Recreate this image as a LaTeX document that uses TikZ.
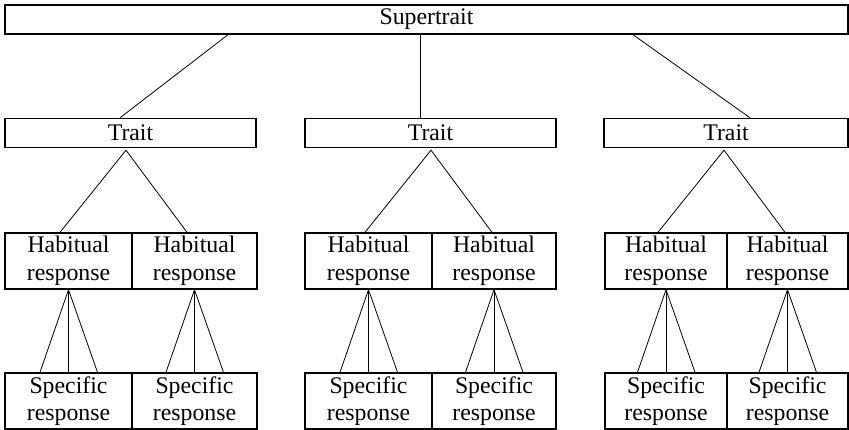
\documentclass[tikz,border=0pt]{standalone}
\usepackage{fontspec}
\setmainfont{Liberation Serif}
\begin{document}
\begin{tikzpicture}[x=1pt,y=-1pt,
  box/.style={draw,line width=1.4pt,rectangle,inner sep=0pt,align=center,
    font=\fontsize{23.8}{27.6}\selectfont},
  wide/.style={box,minimum height=29pt},
  pair/.style={box,minimum height=56pt},
  link/.style={line width=0.8pt}]
\useasboundingbox (0,0) rectangle (849,430);

% top level
\node[wide,minimum width=843pt] (super) at (426.5,19.5) {Supertrait};

% traits
\node[wide,minimum width=251pt] (t1) at (130.5,133) {Trait};
\node[wide,minimum width=251pt] (t2) at (430.5,133) {Trait};
\node[wide,minimum width=244pt] (t3) at (726,133) {Trait};

% habitual responses
\node[pair,minimum width=127pt] (h1) at (68.5,261) {Habitual\\response};
\node[pair,minimum width=125pt] (h2) at (194.5,261) {Habitual\\response};
\node[pair,minimum width=127pt] (h3) at (368.5,261) {Habitual\\response};
\node[pair,minimum width=124pt] (h4) at (494,261) {Habitual\\response};
\node[pair,minimum width=122pt] (h5) at (666,261) {Habitual\\response};
\node[pair,minimum width=121pt] (h6) at (787.5,261) {Habitual\\response};

% specific responses
\node[pair,minimum width=127pt] (s1) at (68.5,401) {Specific\\response};
\node[pair,minimum width=125pt] (s2) at (194.5,401) {Specific\\response};
\node[pair,minimum width=127pt] (s3) at (368.5,401) {Specific\\response};
\node[pair,minimum width=124pt] (s4) at (494,401) {Specific\\response};
\node[pair,minimum width=122pt] (s5) at (666,401) {Specific\\response};
\node[pair,minimum width=121pt] (s6) at (787.5,401) {Specific\\response};

% supertrait to traits
\draw[link] ([xshift=-198.5pt]super.south) -- ([xshift=-10.5pt]t1.north);
\draw[link] ([xshift=-6.5pt]super.south) -- ([xshift=-10.5pt]t2.north);
\draw[link] ([xshift=206.5pt]super.south) -- ([xshift=24pt]t3.north);

% traits to habitual responses
\draw[link] ([xshift=-8.5pt]h1.north) -- ([xshift=-4.5pt,yshift=-2pt]t1.south) -- ([xshift=-7.5pt]h2.north);
\draw[link] ([xshift=-3.5pt]h3.north) -- ([xshift=0.5pt,yshift=-2pt]t2.south) -- ([xshift=-2pt]h4.north);
\draw[link] ([xshift=-8pt]h5.north) -- ([xshift=-2pt,yshift=-2pt]t3.south) -- ([xshift=-2.5pt]h6.north);

% habitual to specific responses
\foreach \h/\s in {h1/s1,h2/s2,h3/s3,h4/s4,h5/s5,h6/s6}{
  \draw[link] ([xshift=-28.5pt]\s.north) -- (\h.south) -- ([xshift=29pt]\s.north);
  \draw[link] (\h.south) -- (\s.north);
}
\end{tikzpicture}
\end{document}
